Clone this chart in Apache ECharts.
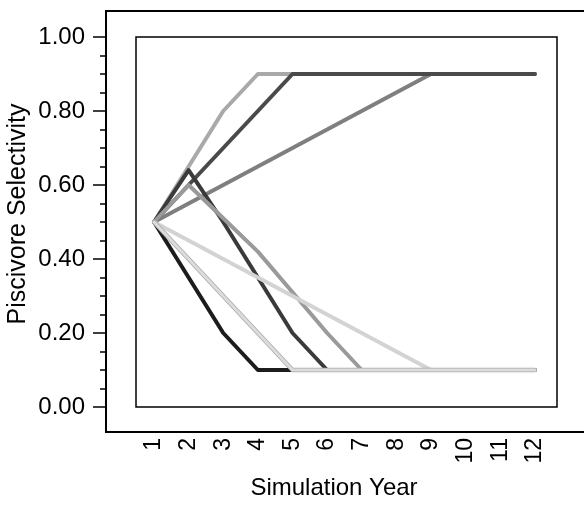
<!DOCTYPE html>
<html>
<head>
<meta charset="utf-8">
<script src="https://cdn.jsdelivr.net/npm/echarts@6/dist/echarts.min.js"></script>
<style>
  html, body { margin: 0; padding: 0; background: #fff; }
  #main { width: 584px; height: 518px; }
</style>
</head>
<body>
<div id="main"></div>
<script>
// simulation years (x) and tick labels
var years = [1, 2, 3, 4, 5, 6, 7, 8, 9, 10, 11, 12];
var yTicks = [0, 0.2, 0.4, 0.6, 0.8, 1.0];

// piscivore selectivity per scenario
var upFast   = [0.50, 0.65, 0.80, 0.90, 0.90, 0.90, 0.90, 0.90, 0.90, 0.90, 0.90, 0.90];
var upSlow   = [0.50, 0.55, 0.60, 0.65, 0.70, 0.75, 0.80, 0.85, 0.90, 0.90, 0.90, 0.90];
var upMid    = [0.50, 0.60, 0.70, 0.80, 0.90, 0.90, 0.90, 0.90, 0.90, 0.90, 0.90, 0.90];
var downFast = [0.50, 0.35, 0.20, 0.10, 0.10, 0.10, 0.10, 0.10, 0.10, 0.10, 0.10, 0.10];
var peakDark = [0.50, 0.64, 0.50, 0.35, 0.20, 0.10, 0.10, 0.10, 0.10, 0.10, 0.10, 0.10];
var peakGray = [0.50, 0.60, 0.51, 0.42, 0.31, 0.20, 0.10, 0.10, 0.10, 0.10, 0.10, 0.10];
var downSlow = [0.50, 0.45, 0.40, 0.35, 0.30, 0.25, 0.20, 0.15, 0.10, 0.10, 0.10, 0.10];
var downMid  = [0.50, 0.40, 0.30, 0.20, 0.10, 0.10, 0.10, 0.10, 0.10, 0.10, 0.10, 0.10];

var FONT = '"Liberation Sans", Arial, sans-serif';

function pairs(vals) {
  return years.map(function (y, i) { return [y, vals[i]]; });
}

function line(name, vals, color, width) {
  return {
    name: name,
    type: 'line',
    data: pairs(vals),
    showSymbol: false,
    silent: true,
    lineStyle: { color: color, width: width || 4, cap: 'round', join: 'round' }
  };
}

var myChart = echarts.init(document.getElementById('main'));

myChart.setOption({
  animation: false,
  backgroundColor: '#fff',
  textStyle: { fontFamily: FONT },
  grid: {
    left: 136, top: 37, width: 421, height: 370,
    show: true, borderColor: '#000', borderWidth: 1.5, backgroundColor: '#fff'
  },
  graphic: [
    {
      type: 'rect', silent: true, z: 0,
      shape: { x: 106, y: 11, width: 600, height: 421 },
      style: { fill: null, stroke: '#000', lineWidth: 2 }
    },
    {
      type: 'text', silent: true,
      x: 18, y: 214, rotation: Math.PI / 2,
      style: {
        text: 'Piscivore Selectivity', fill: '#000',
        font: '25px ' + FONT,
        align: 'center', verticalAlign: 'middle'
      }
    },
    {
      type: 'text', silent: true,
      x: 334, y: 488,
      style: {
        text: 'Simulation Year', fill: '#000',
        font: '24px ' + FONT,
        align: 'center', verticalAlign: 'middle'
      }
    }
  ],
  xAxis: {
    type: 'value',
    min: 0.48,
    max: 12.64,
    offset: 25,
    axisLine: { show: false },
    axisTick: { show: false },
    splitLine: { show: false },
    axisLabel: {
      customValues: years,
      rotate: 90,
      margin: 6,
      color: '#000',
      fontSize: 23,
      fontFamily: FONT
    }
  },
  yAxis: {
    type: 'value',
    min: 0,
    max: 1,
    interval: 0.2,
    offset: 30,
    axisLine: { show: false },
    splitLine: { show: false },
    axisTick: {
      show: true, length: 13,
      customValues: yTicks,
      lineStyle: { color: '#000', width: 1.5 }
    },
    minorTick: {
      show: true, splitNumber: 4, length: 6,
      lineStyle: { color: '#000', width: 1.5 }
    },
    axisLabel: {
      customValues: yTicks,
      margin: 21,
      color: '#000',
      fontSize: 24,
      fontFamily: FONT,
      formatter: function (v) { return v.toFixed(2); }
    }
  },
  series: [
    line('A', upFast, '#a9a9a9'),
    line('C', upSlow, '#7f7f7f'),
    line('B', upMid, '#4a4a4a'),
    line('G', downFast, '#1c1c1c'),
    line('D', peakDark, '#3a3a3a'),
    line('E', peakGray, '#9a9a9a'),
    line('F', downSlow, '#d3d3d3'),
    line('H2', downMid, '#a8a8a8', 4.5),
    line('H', downMid, '#dcdcdc', 3)
  ]
});
</script>
</body>
</html>
